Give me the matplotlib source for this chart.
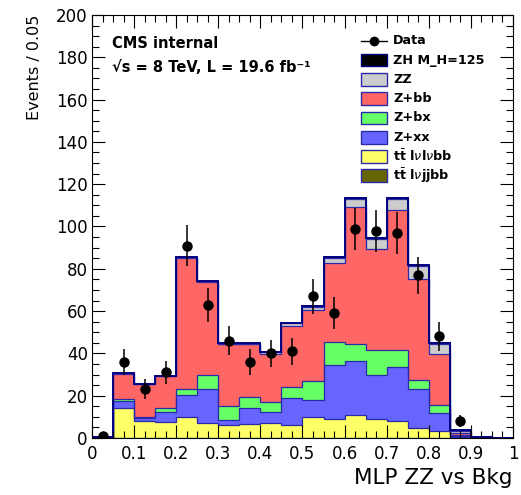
import numpy as np
import matplotlib.pyplot as plt
from matplotlib.patches import Rectangle
from matplotlib.ticker import MultipleLocator

edges = np.linspace(0, 1, 21)
centers = 0.5*(edges[:-1] + edges[1:])

# stack components, bottom to top
tt_lvjjbb = [0, 0.2, 0.1, 0.1, 0.2, 0.1, 0.1, 0.1, 0.1, 0.1, 0.2, 0.2, 0.2, 0.2, 0.2, 0.1, 0.1, 0, 0, 0]
tt_lvlvbb = [0.2, 14.1, 8.1, 7.5, 9.8, 6.9, 6.1, 6.4, 7.2, 5.9, 9.7, 8.6, 10.7, 9.0, 8.0, 4.5, 3.2, 0.5, 0.1, 0]
z_xx = [0.1, 3.2, 1.3, 4.9, 10.3, 16.1, 2.5, 7.5, 5.0, 12.7, 8.1, 25.7, 25.4, 20.6, 25.2, 18.7, 8.5, 0.6, 0.05, 0]
z_bx = [0.05, 0.8, 0.5, 1.9, 2.9, 6.9, 6.6, 5.3, 4.6, 5.5, 8.8, 10.7, 8.0, 12.0, 8.3, 3.9, 3.6, 0.2, 0.05, 0]
z_bb = [0.1, 12.1, 15.4, 14.8, 62.1, 43.8, 29.1, 25.1, 23.0, 28.6, 33.9, 37.6, 64.7, 47.5, 65.9, 48.2, 24.2, 1.2, 0.05, 0]
zz = [0.05, 0.2, 0.2, 0.2, 0.2, 0.2, 0.2, 0.2, 0.6, 1.4, 1.3, 2.5, 3.9, 5.0, 5.2, 5.9, 4.7, 1.0, 0.05, 0]
zh125 = [0, 0.1, 0.1, 0.1, 0.1, 0.1, 0.1, 0.1, 0.1, 0.2, 0.2, 0.3, 0.4, 0.4, 0.5, 0.5, 0.4, 0.2, 0, 0]

data = [1, 36, 23, 31, 91, 63, 46, 36, 40, 41, 67, 59, 99, 98, 97, 77, 48, 8, 0, 0]

names = [r"t$\bar{\mathbf{t}}$ l$\nu$jjbb", r"t$\bar{\mathbf{t}}$ l$\nu$l$\nu$bb",
         "Z+xx", "Z+bx", "Z+bb", "ZZ", "ZH M_H=125"]
comps = [tt_lvjjbb, tt_lvlvbb, z_xx, z_bx, z_bb, zz, zh125]
colors = ["#666600", "#ffff66", "#6666ff", "#66ff66", "#ff6666", "#cccccc", "black"]
line_col = "#2a2aa8"

fig = plt.figure(figsize=(5.21, 4.95), dpi=100)
ax = fig.add_axes([0.1766, 0.1152, 0.808, 0.8545])

bottom = np.zeros(20)
for vals, c in zip(comps, colors):
    top = bottom + np.array(vals)
    ax.stairs(top, edges, baseline=bottom, fill=True, color=c, lw=0)
    bottom = top

cum = np.zeros(20)
for i, vals in enumerate(comps):
    cum = cum + np.array(vals)
    if i == len(comps) - 1:
        ax.stairs(cum, edges, baseline=0, color="#000080", lw=1.4)
    else:
        ax.stairs(cum, edges, baseline=0, color=line_col, lw=0.9)

d = np.array(data, dtype=float)
m = d > 0
ax.errorbar(centers[m], d[m], yerr=np.sqrt(d[m]), fmt="o", color="black",
            ms=6.5, elinewidth=1.1, capsize=0, zorder=5)

ax.set_xlim(0, 1)
ax.set_ylim(0, 200)
ax.xaxis.set_minor_locator(MultipleLocator(0.025))
ax.yaxis.set_major_locator(MultipleLocator(20))
ax.yaxis.set_minor_locator(MultipleLocator(5))
ax.set_xticks(np.arange(0, 1.01, 0.1))
ax.set_xticklabels(["0"] + ["%.1f" % v for v in np.arange(0.1, 0.95, 0.1)] + ["1"])
ax.tick_params(which="both", direction="in", top=True, right=True, width=0.8, labelsize=12)
ax.tick_params(which="major", length=9.5)
ax.tick_params(which="minor", length=5)
ax.tick_params(axis="x", pad=5)
ax.tick_params(axis="y", pad=3)
for s in ax.spines.values():
    s.set_linewidth(0.8)

ax.set_xlabel("MLP ZZ vs Bkg", fontsize=15.5, loc="right")
ax.xaxis.set_label_coords(1.0, -0.072)
ax.set_ylabel("Events / 0.05", fontsize=11.5, loc="top")
ax.yaxis.set_label_coords(-0.118, 1.0)

ax.text(0.0475, 0.9227, "CMS internal", transform=ax.transAxes, fontsize=10.5,
        fontweight="bold", va="baseline")
ax.text(0.0475, 0.866, "\u221as = 8 TeV, L = 19.6 fb\u207b\u00b9", transform=ax.transAxes,
        fontsize=10.5, fontweight="bold", va="baseline")

# legend, drawn by hand so rows keep even spacing
tr = ax.transAxes
x0, bw, bh = 0.639, 0.062, 0.030
ytop, dy = 0.939, 0.0456
ax.plot([x0, x0 + bw], [ytop, ytop], color="black", lw=1, transform=tr)
ax.plot([x0 + bw/2], [ytop], "o", color="black", ms=6, transform=tr)
ax.text(0.715, ytop, "Data", transform=tr, va="center", fontsize=9.2, fontweight="bold")
for k, (n, c) in enumerate(list(zip(names, colors))[::-1]):
    y = ytop - (k + 1)*dy
    ec = "#000080" if c == "black" else line_col
    ax.add_patch(Rectangle((x0, y - bh/2), bw, bh, transform=tr, facecolor=c,
                           edgecolor=ec, lw=1))
    ax.text(0.715, y, n, transform=tr, va="center", fontsize=9.2, fontweight="bold")

fig.savefig("out.png", dpi=100)
